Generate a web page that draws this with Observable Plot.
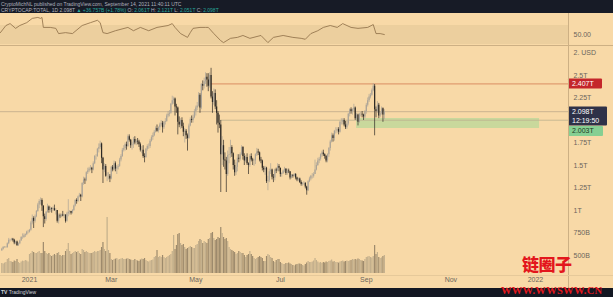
<!DOCTYPE html>
<html>
<head>
<meta charset="utf-8">
<script src="https://cdn.jsdelivr.net/npm/d3@7"></script>
<script src="https://cdn.jsdelivr.net/npm/@observablehq/plot@0.6"></script>
<style>
  html, body { margin:0; padding:0; }
  body { width:613px; height:297px; overflow:hidden; background:#f8d9a7; font-family:"Liberation Sans", Arial, sans-serif; }
  #wrap { position:relative; width:613px; height:297px; background:#f8d9a7; }
  .abs { position:absolute; }
  .abs svg { display:block; }
  #hdr { left:0; top:0; width:613px; height:13px; background:#171b26; color:#aeb2bd; font-size:5px; line-height:6px; padding:1px 0 0 1px; box-sizing:border-box; white-space:nowrap; }
  #hdr .g { color:#26a69a; }
  #ftr { left:0; top:288px; width:613px; height:9px; background:#131722; color:#d1d4dc; font-size:5px; line-height:9px; padding-left:1px; box-sizing:border-box; white-space:nowrap; }
  .sep { background:#cdb084; }
  #wm1 { left:522px; top:254px; color:#e3161c; font-family:"Noto Sans CJK SC", sans-serif; font-weight:900; font-size:17px; line-height:20px; letter-spacing:-0.5px; }
  #wm2 { left:501px; top:285px; color:#e3161c; font-family:"Liberation Serif", serif; font-weight:bold; font-size:10.5px; line-height:11px; letter-spacing:0.3px; }
</style>
</head>
<body>
<div id="wrap">
  <div id="rsiBox" class="abs" style="left:0;top:13px"></div>
  <div id="volBox" class="abs" style="left:0;top:45px"></div>
  <div id="mainBox" class="abs" style="left:0;top:45px"></div>
  <div class="abs sep" style="left:0;top:45px;width:613px;height:1px"></div>
  <div class="abs sep" style="left:568px;top:13px;width:1px;height:275px"></div>
  <div class="abs" style="left:0;top:275px;width:613px;height:1px;background:#e6c99a"></div>
  <div id="hdr" class="abs">
    <div>CryptoMichNL published on TradingView.com, September 14, 2021 11:40:11 UTC</div>
    <div>CRYPTOCAP:TOTAL, 1D 2.098T <span class="g">▲ +36.757B (+1.78%)</span> O: <span class="g">2.061T</span> H: <span class="g">2.121T</span> L: <span class="g">2.051T</span> C: <span class="g">2.098T</span></div>
  </div>
  <div id="ftr" class="abs"><b>TV</b> TradingView</div>
  <div id="wm1" class="abs">链圈子</div>
  <div id="wm2" class="abs">WWW.WWSWW.CN</div>
</div>
<script>
// ---------- data (values in trillions USD unless noted) ----------
const firstDay = "2020-12-12";
const firstOpen = 0.55;

const closeT = [
  // Dec 12-31 2020
  0.57,0.59,0.59,0.59,0.63,0.67,0.67,0.68,0.67,0.64,0.65,0.61,0.63,0.66,0.70,0.70,0.72,0.73,0.76,0.76,
  // Jan
  0.78,0.86,0.91,0.88,0.93,0.99,1.06,1.10,1.11,1.05, 0.93,0.90,0.98,1.04,1.00,1.02,1.01,1.02,1.00,1.00, 0.88,0.94,0.93,0.95,0.94,0.95,0.88,0.96,0.98,0.99,0.97,
  // Feb
  1.00,1.05,1.11,1.10,1.15,1.17,1.15,1.30,1.34,1.33, 1.42,1.44,1.46,1.47,1.45,1.52,1.60,1.60,1.68,1.70, 1.74,1.58,1.45,1.49,1.38,1.38,1.38,1.35,
  // Mar
  1.48,1.45,1.52,1.46,1.48,1.49,1.56,1.60,1.67,1.69, 1.73,1.71,1.82,1.78,1.72,1.73,1.79,1.75,1.77,1.76, 1.73,1.67,1.67,1.60,1.59,1.68,1.71,1.71,1.77,1.81,1.83,
  // Apr
  1.87,1.91,1.88,1.92,1.95,1.97,1.92,1.98,1.99,2.05, 2.07,2.08,2.18,2.22,2.24,2.15,2.14,1.98,1.95,2.00, 1.93,1.87,1.88,1.83,1.80,1.94,2.01,2.00,2.03,2.10,
  // May
  2.14,2.16,2.28,2.14,2.40,2.38,2.43,2.48,2.45,2.38, 2.50,2.26,2.20,2.30,2.15,2.08,1.97,1.95,1.62,1.72, 1.56,1.55,1.40,1.61,1.62,1.70,1.63,1.50,1.42,1.48,1.58,
  // Jun
  1.57,1.62,1.70,1.60,1.55,1.59,1.52,1.50,1.60,1.56, 1.55,1.55,1.62,1.65,1.64,1.56,1.55,1.47,1.45,1.47, 1.32,1.33,1.43,1.45,1.37,1.36,1.45,1.44,1.49,1.47,
  // Jul
  1.40,1.41,1.44,1.46,1.41,1.44,1.43,1.36,1.39,1.38, 1.40,1.36,1.34,1.35,1.31,1.29,1.30,1.30,1.26,1.22, 1.32,1.35,1.38,1.38,1.40,1.45,1.50,1.55,1.57,1.62,1.64,
  // Aug
  1.62,1.60,1.55,1.62,1.69,1.76,1.83,1.80,1.88,1.88, 1.90,1.87,1.98,1.98,2.00,1.95,1.92,1.96,2.07,2.12, 2.10,2.12,2.14,2.02,2.06,1.98,2.07,2.07,2.06,2.04,2.10,
  // Sep 1-14
  2.17,2.22,2.26,2.28,2.33,2.38,2.12,2.10,2.17,2.05,2.08,2.13,2.06,2.098
];
const highT = [
  0.58,0.60,0.60,0.60,0.64,0.69,0.68,0.69,0.69,0.68,0.66,0.66,0.64,0.67,0.71,0.74,0.74,0.74,0.77,0.78,
  0.79,0.88,0.95,0.93,0.95,1.00,1.08,1.12,1.14,1.13, 1.05,0.96,0.99,1.07,1.05,1.04,1.03,1.04,1.06,1.02, 1.00,0.96,0.96,0.96,0.99,0.96,0.95,0.98,1.12,1.00,0.99,
  1.01,1.06,1.12,1.13,1.16,1.19,1.18,1.31,1.37,1.36, 1.43,1.47,1.48,1.50,1.48,1.54,1.61,1.62,1.69,1.74, 1.77,1.75,1.59,1.52,1.51,1.42,1.42,1.40,
  1.49,1.50,1.55,1.54,1.50,1.51,1.58,1.62,1.69,1.72, 1.75,1.76,1.84,1.84,1.79,1.76,1.81,1.82,1.79,1.80, 1.78,1.75,1.71,1.72,1.63,1.69,1.73,1.74,1.79,1.83,1.86,
  1.89,1.93,1.95,1.93,1.97,2.00,1.99,1.99,2.02,2.07, 2.10,2.11,2.19,2.27,2.26,2.25,2.18,2.15,2.04,2.02, 2.03,1.97,1.91,1.90,1.85,1.96,2.03,2.05,2.06,2.12,
  2.16,2.20,2.31,2.30,2.41,2.44,2.47,2.53,2.52,2.52, 2.53,2.58,2.32,2.35,2.34,2.22,2.10,2.06,2.00,1.82, 1.78,1.64,1.59,1.66,1.70,1.78,1.72,1.64,1.56,1.53,1.62,
  1.62,1.64,1.72,1.71,1.63,1.61,1.63,1.53,1.62,1.63, 1.58,1.57,1.63,1.69,1.68,1.65,1.59,1.56,1.49,1.49, 1.48,1.38,1.46,1.52,1.46,1.40,1.46,1.47,1.52,1.51,
  1.47,1.42,1.45,1.48,1.46,1.46,1.46,1.43,1.40,1.40, 1.41,1.41,1.37,1.36,1.36,1.33,1.31,1.32,1.31,1.27, 1.33,1.37,1.39,1.41,1.42,1.56,1.53,1.58,1.59,1.63,1.66,
  1.67,1.63,1.61,1.63,1.70,1.78,1.86,1.85,1.89,1.92, 1.92,1.92,1.99,2.02,2.02,2.02,1.99,1.99,2.08,2.13, 2.14,2.13,2.18,2.15,2.08,2.07,2.08,2.09,2.10,2.07,2.11,
  2.19,2.25,2.29,2.30,2.35,2.41,2.40,2.15,2.21,2.19,2.10,2.15,2.14,2.12
];
const lowT = [
  0.55,0.56,0.58,0.58,0.58,0.62,0.65,0.66,0.65,0.62,0.62,0.60,0.60,0.62,0.66,0.68,0.69,0.70,0.72,0.74,
  0.75,0.77,0.84,0.80,0.86,0.92,0.98,1.02,1.06,0.99, 0.81,0.85,0.88,0.97,0.97,0.98,0.97,0.99,0.99,0.95, 0.86,0.85,0.91,0.92,0.93,0.91,0.86,0.87,0.93,0.95,0.95,
  0.96,0.99,1.04,1.07,1.09,1.14,1.10,1.14,1.28,1.29, 1.32,1.40,1.42,1.44,1.41,1.44,1.51,1.56,1.59,1.64, 1.68,1.52,1.30,1.42,1.37,1.32,1.34,1.31,
  1.34,1.43,1.44,1.43,1.40,1.45,1.48,1.54,1.59,1.65, 1.66,1.67,1.70,1.76,1.69,1.67,1.69,1.73,1.72,1.73, 1.70,1.65,1.63,1.58,1.53,1.58,1.66,1.68,1.69,1.76,1.78,
  1.82,1.86,1.87,1.86,1.89,1.93,1.86,1.90,1.95,1.98, 2.03,2.04,2.07,2.17,2.18,2.05,2.08,1.84,1.92,1.90, 1.91,1.82,1.75,1.79,1.66,1.79,1.93,1.97,1.97,2.02,
  2.05,2.11,2.15,2.08,2.12,2.33,2.35,2.40,2.37,2.32, 2.36,2.24,2.08,2.17,2.12,1.95,1.86,1.91,1.20,1.50, 1.48,1.45,1.20,1.38,1.52,1.58,1.59,1.45,1.38,1.39,1.43,
  1.53,1.55,1.61,1.56,1.50,1.53,1.50,1.40,1.48,1.54, 1.50,1.49,1.51,1.60,1.61,1.54,1.52,1.44,1.42,1.39, 1.30,1.22,1.31,1.40,1.34,1.31,1.33,1.41,1.43,1.43,
  1.37,1.37,1.40,1.42,1.39,1.39,1.41,1.34,1.35,1.36, 1.37,1.34,1.32,1.32,1.30,1.27,1.27,1.28,1.24,1.17, 1.21,1.31,1.33,1.35,1.36,1.40,1.44,1.49,1.52,1.55,1.59,
  1.60,1.57,1.53,1.53,1.59,1.66,1.75,1.76,1.77,1.85, 1.86,1.84,1.86,1.95,1.95,1.93,1.90,1.90,1.94,2.04, 2.07,2.06,2.10,2.00,1.99,1.94,1.97,2.04,2.03,2.00,2.02,
  2.07,2.15,2.20,2.24,2.27,2.32,1.83,2.03,2.08,2.02,2.03,2.06,1.98,2.01
];
// daily volume, billions USD
const volumeB = [
  50,48,52,55,70,75,60,58,55,62,60,70,55,50,58,62,60,65,62,58,
  95,100,110,105,100,100,105,110,100,100, 155,110,100,95,100,90,85,90,95,90, 100,105,90,85,90,90,110,120,150,110,95,
  100,105,110,105,110,100,95,120,115,105, 110,105,100,100,100,105,110,105,110,110, 115,130,155,120,110,280,115,100,
  70,65,70,72,75,68,70,72,75,70, 70,72,75,70,68,65,65,70,65,62, 60,68,72,70,75,65,60,58,62,65,68,
  80,85,115,80,85,80,90,80,75,80, 85,90,95,110,190,120,140,195,200,150, 140,145,130,120,125,130,135,130,125,125,
  140,145,160,170,165,150,160,155,150,170, 175,200,205,175,165,170,180,175,230,200, 180,170,175,160,130,120,115,110,105,95,100,
  110,105,100,100,90,80,90,95,110,95, 85,75,70,75,80,85,80,75,60,60, 85,95,90,80,75,60,55,65,70,70,
  55,50,45,45,50,50,52,48,45,40, 38,42,45,47,48,45,40,38,45,52, 60,55,55,58,62,75,65,58,52,55,50,
  55,52,58,55,60,62,68,58,60,55, 55,52,58,60,62,58,60,62,60,62, 65,70,68,70,68,72,70,65,62,60,70,
  80,82,85,80,78,85,140,95,105,80,75,78,85,90
];

// RSI readings
const rsiDates = ["2020-12-11","2020-12-15","2020-12-18","2020-12-22","2020-12-25","2020-12-30","2021-01-03","2021-01-07","2021-01-09","2021-01-10","2021-01-11","2021-01-16","2021-01-20","2021-01-22","2021-01-27","2021-02-01","2021-02-08","2021-02-14","2021-02-19","2021-02-21","2021-02-23","2021-02-26","2021-03-04","2021-03-13","2021-03-17","2021-03-22","2021-03-28","2021-04-03","2021-04-11","2021-04-14","2021-04-16","2021-04-20","2021-04-25","2021-04-27","2021-04-29","2021-05-04","2021-05-08","2021-05-10","2021-05-14","2021-05-19","2021-05-21","2021-05-26","2021-05-31","2021-06-04","2021-06-09","2021-06-17","2021-06-22","2021-06-26","2021-07-03","2021-07-10","2021-07-16","2021-07-19","2021-07-23","2021-07-28","2021-08-01","2021-08-06","2021-08-11","2021-08-15","2021-08-21","2021-08-26","2021-09-02","2021-09-06","2021-09-08","2021-09-11","2021-09-14"];
const rsiValues = [55,70,74,64,70,76,85,87,85,87,66,66,64,53,55,53,70,76,81,76,55,53,59,66,59,66,59,66,70,74,66,53,45,55,64,66,66,66,53,38,34,43,45,49,43,49,34,45,49,45,43,41,53,59,66,70,66,74,66,64,66,72,53,53,51];
const rsiBand = [30, 70];
const rsiDomain = [27.9, 95.3];
const rsiTicks = [50];
const rsiTickLabels = ["50.00"];

// axes
const xDomain = ["2020-12-11T02:00:00Z", "2022-01-24T21:00:00Z"];
const xTickDates = ["2021-01-01","2021-03-01","2021-05-01","2021-07-01","2021-09-01","2021-11-01","2022-01-01"];
const xTickLabels = ["2021","Mar","May","Jul","Sep","Nov","2022"];
const yDomainT = [0.2667, 2.8333];
const yTickValues = [0.5,0.75,1,1.25,1.5,1.75,2.25,2.5,2.75];
const yTickLabels = ["500B","750B","1T","1.25T","1.5T","1.75T","2.25T","2.5T","2. USD"];
const volumeDomain = [0, 1140];

// levels
const resistance = {value: 2.407, from: "2021-05-12"};
const support = {value: 2.003, from: "2021-05-19"};
const lastPrice = 2.098;
const countdown = "12:19:50";
const zone = {from: "2021-08-25", to: "2022-01-04", low: 1.911, high: 2.022};

// ---------- build ----------
const UP = "#aaa397", DOWN = "#2e2a25";
const VUP = "#c3af8c", VDOWN = "#9d8a6c";
const xd = xDomain.map(d => new Date(d));
const day0 = new Date(firstDay + "T00:00:00Z");
const candles = closeT.map((c, i) => {
  const o = i === 0 ? firstOpen : closeT[i - 1];
  return {date: d3.utcDay.offset(day0, i), o, c, h: Math.max(highT[i], o, c), l: Math.min(lowT[i], o, c), v: volumeB[i], up: c >= o};
});
const rsi = rsiDates.map((d, i) => ({date: new Date(d + "T00:00:00Z"), v: rsiValues[i]}));
const fontFam = "Liberation Sans, Arial, sans-serif";

const fmtX = d => { const k = xTickDates.findIndex(s => +new Date(s + "T00:00:00Z") === +d); return k >= 0 ? xTickLabels[k] : ""; };
const fmtY = d => { const k = yTickValues.findIndex(v => Math.abs(v - d) < 1e-9); return k >= 0 ? yTickLabels[k] : ""; };

function priceTags(tags) {
  return (index, scales, values, dims) => {
    const g = d3.create("svg:g").attr("font-family", fontFam).attr("font-size", 7).attr("text-anchor", "start");
    const x0 = dims.width - dims.marginRight;
    let prevBottom = -Infinity;
    for (const t of tags) {
      const yc = scales.y(t.value);
      const h = t.lines.length * 9 + 1;
      let top = yc - 4.75;
      if (top < prevBottom + 0.5) top = prevBottom + 0.5;
      g.append("rect").attr("x", x0).attr("y", top).attr("width", t.w).attr("height", h).attr("fill", t.fill).attr("rx", 1);
      t.lines.forEach((s, k) => g.append("text").attr("x", x0 + 4).attr("y", top + 4.9 + k * 9.4).attr("dy", "0.35em").attr("text-anchor", "start").attr("fill", t.ink).text(s));
      prevBottom = top + h;
    }
    return g.node();
  };
}

// RSI pane
const rsiPlot = Plot.plot({
  width: 613, height: 32, marginTop: 0, marginBottom: 0, marginLeft: 0, marginRight: 45,
  style: {background: "transparent", fontFamily: fontFam, fontSize: "7px", color: "#6b655c", overflow: "visible"},
  x: {type: "utc", domain: xd, axis: null},
  y: {domain: rsiDomain, axis: "right", ticks: rsiTicks, tickFormat: d => rsiTickLabels[rsiTicks.indexOf(d)], tickSize: 0, tickPadding: 5, label: null},
  marks: [
    Plot.rect([rsiBand], {x1: () => xd[0], x2: () => xd[1], y1: d => d[0], y2: d => d[1], fill: "#eccf9e"}),
    Plot.line(rsi, {x: "date", y: "v", stroke: "#8c6c45", strokeWidth: 0.8})
  ]
});
document.getElementById("rsiBox").appendChild(rsiPlot);

// Volume pane
const volPlot = Plot.plot({
  width: 613, height: 231, marginTop: 0, marginBottom: 3, marginLeft: 0, marginRight: 45,
  style: {background: "transparent", overflow: "visible"},
  x: {type: "utc", domain: xd, axis: null},
  y: {domain: volumeDomain, axis: null},
  marks: [
    Plot.ruleX(candles, {x: "date", y1: 0, y2: "v", stroke: d => d.up ? VUP : VDOWN, strokeWidth: 1.2})
  ]
});
document.getElementById("volBox").appendChild(volPlot);

// Main price pane
const mainPlot = Plot.plot({
  width: 613, height: 243, marginTop: 0, marginBottom: 12, marginLeft: 0, marginRight: 45,
  style: {background: "transparent", fontFamily: fontFam, fontSize: "7px", color: "#6b655c", overflow: "visible"},
  x: {type: "utc", domain: xd, ticks: xTickDates.map(s => new Date(s + "T00:00:00Z")), tickFormat: fmtX, tickSize: 0, tickPadding: 1, label: null},
  y: {domain: yDomainT, axis: "right", ticks: yTickValues, tickFormat: fmtY, tickSize: 0, tickPadding: 5, label: null},
  marks: [
    Plot.rect([zone], {x1: d => new Date(d.from), x2: d => new Date(d.to), y1: "low", y2: "high", fill: "#c9d89c"}),
    Plot.ruleY([lastPrice], {stroke: "#b7a487", strokeWidth: 0.7}),
    Plot.ruleY([support], {y: "value", x1: d => new Date(d.from), x2: () => xd[1], stroke: "#bdb08e", strokeWidth: 0.8}),
    Plot.ruleY([resistance], {y: "value", x1: d => new Date(d.from), x2: () => xd[1], stroke: "#e09c70", strokeWidth: 1.3}),
    Plot.ruleX(candles, {x: "date", y1: "l", y2: "h", stroke: d => d.up ? UP : DOWN, strokeWidth: 0.7}),
    Plot.ruleX(candles, {x: "date", y1: "o", y2: "c", stroke: d => d.up ? UP : DOWN, strokeWidth: 1.2}),
    priceTags([
      {value: resistance.value, lines: [resistance.value.toFixed(3) + "T"], fill: "#c4262b", ink: "#ffffff", w: 34},
      {value: lastPrice, lines: [lastPrice.toFixed(3) + "T", countdown], fill: "#2e3148", ink: "#ffffff", w: 39},
      {value: support.value, lines: [support.value.toFixed(3) + "T"], fill: "#86cf92", ink: "#1d3a24", w: 35}
    ])
  ]
});
document.getElementById("mainBox").appendChild(mainPlot);
</script>
</body>
</html>
